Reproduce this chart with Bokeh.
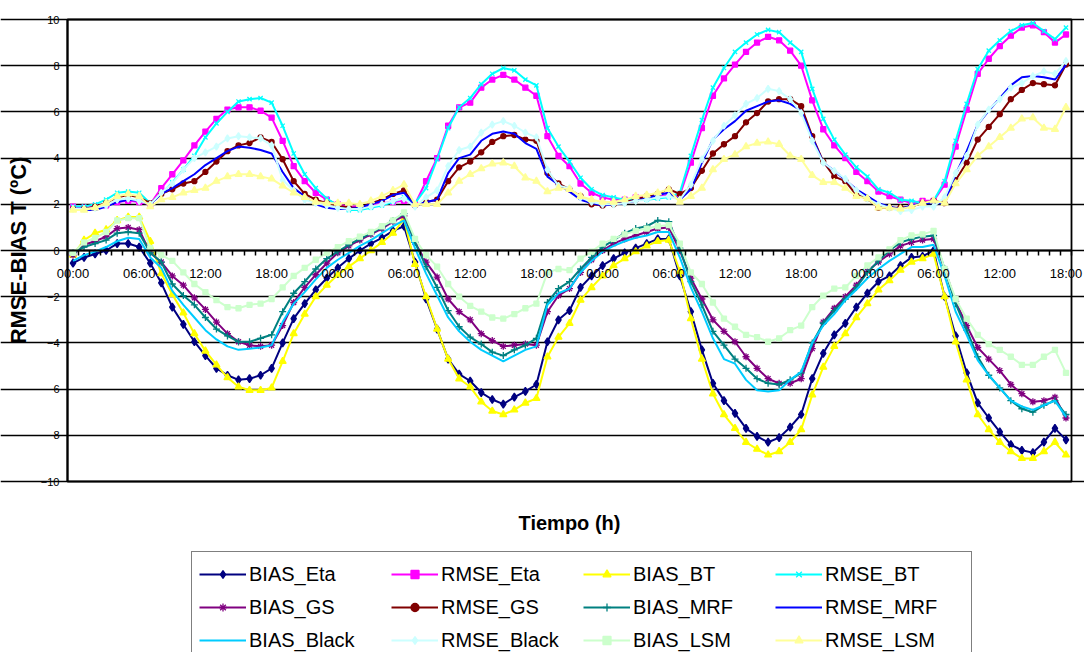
from bokeh.plotting import figure
from bokeh.models import (Range1d, FixedTicker, LinearAxis, Grid, Legend,
                          LegendItem, Label)
from bokeh.embed import file_html
from bokeh.resources import INLINE

# Hourly forecast verification, 91 hourly steps
hours = list(range(91))
tick_hours = list(range(0, 91, 6))
tick_labels = ["00:00", "06:00", "12:00", "18:00"] * 4
y_ticks = list(range(-10, 11, 2))

bias_eta = [-0.55, -0.3, -0.15, 0.0, 0.3, 0.3,
            0.15, -0.55, -1.4, -2.45, -3.2, -3.95,
            -4.55, -5.1, -5.4, -5.6, -5.55, -5.4,
            -5.1, -4.0, -2.95, -2.3, -1.7, -1.2,
            -0.75, -0.35, 0.0, 0.3, 0.55, 0.85,
            1.05, -0.5, -2.1, -3.4, -4.7, -5.35,
            -5.65, -6.15, -6.45, -6.65, -6.35, -6.1,
            -5.8, -3.95, -3.0, -2.6, -1.6, -1.1,
            -0.65, -0.35, -0.1, 0.1, 0.3, 0.5,
            0.5, -1.1, -2.65, -4.3, -5.75, -6.5,
            -7.05, -7.7, -8.05, -8.3, -8.1, -7.65,
            -7.1, -5.55, -4.45, -3.65, -3.15, -2.45,
            -1.85, -1.35, -1.1, -0.65, -0.3, -0.25,
            0.0, -2.0, -3.7, -5.3, -6.6, -7.25,
            -7.85, -8.4, -8.65, -8.75, -8.3, -7.7,
            -8.2]

rmse_eta = [1.9, 1.85, 1.9, 1.95, 2.1, 2.15,
            2.1, 2.0, 2.7, 3.3, 3.9, 4.55,
            5.15, 5.7, 6.1, 6.2, 6.2, 6.05,
            5.75, 4.75, 3.65, 3.0, 2.5, 2.2,
            2.0, 1.9, 1.9, 1.95, 2.05, 2.1,
            2.15, 2.0, 3.0, 4.0, 5.4, 6.2,
            6.4, 7.05, 7.4, 7.6, 7.4, 7.05,
            6.7, 4.95, 4.1, 3.65, 2.9, 2.5,
            2.3, 2.2, 2.2, 2.3, 2.3, 2.35,
            2.4, 2.4, 3.8, 5.3, 6.7, 7.45,
            8.05, 8.6, 9.0, 9.25, 9.1, 8.65,
            8.0, 6.5, 5.25, 4.55, 4.0, 3.4,
            3.0, 2.55, 2.35, 2.2, 2.05, 2.15,
            2.15, 2.85, 4.5, 6.1, 7.65, 8.3,
            8.85, 9.3, 9.65, 9.75, 9.45, 9.0,
            9.35]

bias_bt = [-0.2, 0.45, 0.75, 0.9, 1.3, 1.45,
           1.45, 0.4, -1.0, -1.9, -2.7, -3.6,
           -4.35, -4.95, -5.5, -5.9, -6.05, -6.05,
           -5.95, -4.8, -3.6, -2.75, -2.0, -1.5,
           -1.05, -0.7, -0.35, 0.0, 0.35, 0.75,
           1.35, -0.6, -2.0, -3.4, -4.7, -5.55,
           -5.9, -6.55, -6.95, -7.1, -6.9, -6.6,
           -6.4, -4.6, -3.75, -3.15, -2.15, -1.6,
           -1.1, -0.65, -0.35, -0.05, 0.2, 0.4,
           0.45, -0.9, -2.95, -4.7, -6.2, -7.1,
           -7.7, -8.3, -8.6, -8.85, -8.7, -8.3,
           -7.75, -6.25, -5.05, -4.15, -3.6, -2.9,
           -2.3, -1.7, -1.3, -0.85, -0.5, -0.35,
           -0.15, -2.0, -3.95, -5.6, -7.1, -7.75,
           -8.3, -8.7, -9.0, -9.0, -8.7, -8.3,
           -8.85]

rmse_bt = [1.9, 1.9, 2.0, 2.2, 2.5, 2.55,
           2.5, 2.05, 2.45, 2.95, 3.5, 4.1,
           4.9, 5.5, 6.0, 6.45, 6.55, 6.6,
           6.4, 5.4, 4.2, 3.3, 2.7, 2.25,
           1.95, 1.75, 1.75, 1.85, 1.95, 2.1,
           2.3, 2.05, 2.7, 3.95, 5.3, 6.2,
           6.6, 7.2, 7.65, 7.9, 7.8, 7.4,
           7.15, 5.3, 4.5, 3.85, 3.15, 2.65,
           2.4, 2.3, 2.2, 2.25, 2.2, 2.25,
           2.3, 2.5, 4.1, 5.65, 7.05, 7.9,
           8.6, 9.0, 9.35, 9.55, 9.45, 9.0,
           8.6, 7.0, 5.7, 4.8, 4.15, 3.6,
           3.2, 2.65, 2.5, 2.2, 2.15, 2.05,
           2.15, 3.0, 4.75, 6.35, 7.85, 8.65,
           9.1, 9.5, 9.75, 9.85, 9.5, 9.15,
           9.65]

bias_gs = [-0.2, 0.25, 0.4, 0.6, 0.95, 1.0,
           0.9, -0.1, -0.5, -1.1, -1.5, -2.05,
           -2.55, -3.1, -3.6, -3.95, -4.1, -4.15,
           -4.1, -3.25, -2.25, -1.6, -1.05, -0.55,
           -0.1, 0.2, 0.45, 0.7, 0.95, 1.25,
           1.5, 0.35, -0.5, -1.15, -2.1, -2.65,
           -3.0, -3.6, -3.9, -4.15, -4.1, -4.05,
           -4.1, -2.65, -1.95, -1.65, -0.95, -0.4,
           0.0, 0.3, 0.5, 0.65, 0.8, 0.95,
           1.0, 0.0, -1.2, -2.1, -3.0, -3.5,
           -3.95, -4.6, -5.1, -5.55, -5.75, -5.75,
           -5.55, -4.25, -3.1, -2.5, -2.0, -1.5,
           -0.9, -0.5, -0.15, 0.2, 0.35, 0.45,
           0.5, -0.8, -2.2, -3.25, -4.2, -4.7,
           -5.2, -5.8, -6.2, -6.55, -6.5, -6.35,
           -7.25]

rmse_gs = [1.8, 1.8, 1.9, 2.05, 2.3, 2.4,
           2.3, 2.05, 2.45, 2.65, 2.9, 3.0,
           3.4, 3.85, 4.3, 4.55, 4.65, 4.9,
           4.7, 3.95, 3.0, 2.45, 2.2, 2.05,
           1.95, 1.85, 1.85, 2.05, 2.2, 2.45,
           2.6, 1.95, 2.1, 2.2, 3.0, 3.6,
           3.85, 4.25, 4.7, 4.95, 5.0, 4.8,
           4.75, 3.35, 2.9, 2.65, 2.35, 2.0,
           1.95, 2.0, 2.1, 2.2, 2.35, 2.45,
           2.65, 2.45, 2.7, 3.45, 4.2, 4.6,
           4.95, 5.55, 5.95, 6.45, 6.55, 6.55,
           6.25, 4.95, 3.85, 3.2, 3.0, 2.4,
           2.25, 1.85, 1.85, 1.85, 1.9, 2.05,
           2.15, 2.05, 3.05, 3.8, 4.8, 5.35,
           5.9, 6.55, 6.95, 7.25, 7.2, 7.15,
           8.05]

bias_mrf = [-0.1, 0.15, 0.3, 0.45, 0.75, 0.8,
            0.75, -0.1, -0.5, -1.45, -1.95, -2.35,
            -2.9, -3.4, -3.7, -3.95, -3.95, -3.8,
            -3.65, -2.65, -1.85, -1.35, -0.8, -0.35,
            -0.05, 0.25, 0.5, 0.75, 1.0, 1.3,
            1.6, 0.35, -0.7, -1.6, -2.6, -3.3,
            -3.75, -4.05, -4.4, -4.55, -4.3, -4.1,
            -3.8, -2.25, -1.65, -1.35, -0.8, -0.3,
            0.15, 0.45, 0.75, 0.95, 1.05, 1.3,
            1.25, 0.1, -1.35, -2.35, -3.5, -4.1,
            -4.7, -5.1, -5.55, -5.75, -5.8, -5.6,
            -5.3, -4.0, -3.15, -2.6, -2.1, -1.6,
            -0.95, -0.45, 0.0, 0.35, 0.5, 0.6,
            0.65, -0.8, -2.3, -3.45, -4.6, -5.4,
            -5.95, -6.5, -6.85, -7.0, -6.7, -6.5,
            -7.1]

rmse_mrf = [1.75, 1.75, 1.75, 1.9, 2.1, 2.2,
            2.15, 2.0, 2.45, 2.7, 3.0, 3.3,
            3.7, 4.0, 4.3, 4.5, 4.45, 4.35,
            4.2, 3.4, 2.7, 2.35, 2.0, 1.85,
            1.8, 1.8, 1.85, 2.0, 2.15, 2.4,
            2.5, 1.95, 2.1, 2.2, 3.35, 4.0,
            4.15, 4.75, 5.05, 5.15, 5.05, 4.65,
            4.4, 3.2, 2.85, 2.55, 2.2, 2.05,
            1.95, 2.0, 2.05, 2.15, 2.25, 2.4,
            2.5, 2.2, 2.65, 3.8, 4.8, 5.25,
            5.6, 6.05, 6.25, 6.45, 6.5, 6.35,
            6.05, 4.9, 3.8, 3.45, 3.05, 2.65,
            2.35, 2.05, 1.9, 1.8, 1.95, 2.05,
            2.05, 2.05, 3.3, 4.3, 5.45, 6.05,
            6.6, 7.15, 7.5, 7.55, 7.5, 7.4,
            8.05]

bias_black = [-0.45, -0.2, -0.05, 0.15, 0.4, 0.55,
              0.5, -0.3, -0.75, -1.75, -2.35, -2.9,
              -3.45, -3.85, -4.15, -4.3, -4.25, -4.2,
              -4.1, -3.1, -2.3, -1.8, -1.25, -0.75,
              -0.4, -0.1, 0.2, 0.45, 0.75, 1.05,
              1.3, 0.1, -1.0, -1.95, -2.9, -3.5,
              -3.95, -4.3, -4.55, -4.8, -4.55, -4.3,
              -4.15, -2.35, -1.85, -1.65, -0.95, -0.45,
              -0.05, 0.2, 0.4, 0.55, 0.65, 0.8,
              0.8, -0.3, -1.6, -2.65, -3.8, -4.7,
              -4.9, -5.6, -6.05, -6.1, -6.05, -5.6,
              -5.25, -4.0, -3.25, -2.75, -2.15, -1.7,
              -1.2, -0.8, -0.45, -0.15, 0.15, 0.15,
              0.25, -1.1, -2.65, -3.65, -4.75, -5.4,
              -5.95, -6.5, -6.75, -6.9, -6.7, -6.5,
              -7.2]

rmse_black = [1.8, 1.8, 1.85, 1.95, 2.2, 2.25,
              2.15, 2.0, 2.5, 2.9, 3.5, 4.0,
              4.25, 4.5, 4.85, 4.95, 4.9, 4.85,
              4.55, 3.05, 2.6, 2.2, 2.05, 1.95,
              1.85, 1.8, 1.8, 1.9, 2.0, 2.15,
              2.25, 1.9, 2.3, 2.6, 3.65, 4.35,
              4.5, 5.1, 5.45, 5.6, 5.4, 5.1,
              4.9, 3.5, 2.8, 2.7, 2.3, 2.1,
              2.0, 2.0, 2.05, 2.15, 2.2, 2.3,
              2.35, 2.2, 2.85, 3.95, 4.75, 5.4,
              5.85, 6.35, 6.6, 7.0, 6.9, 6.55,
              5.95, 4.75, 3.8, 3.45, 3.1, 2.6,
              2.25, 2.0, 1.85, 1.7, 1.75, 1.9,
              1.9, 2.3, 3.35, 4.1, 5.45, 6.1,
              6.55, 7.05, 7.25, 7.55, 7.75, 7.65,
              8.2]

bias_lsm = [-0.1, 0.35, 0.55, 0.8, 1.3, 1.4,
            1.4, 0.1, -0.2, -0.45, -0.95, -1.45,
            -1.8, -2.15, -2.45, -2.5, -2.35, -2.3,
            -2.1, -1.6, -1.1, -0.75, -0.4, -0.1,
            0.15, 0.4, 0.6, 0.8, 1.05, 1.3,
            1.65, 0.5, -0.2, -0.7, -1.45, -2.0,
            -2.4, -2.65, -2.9, -2.95, -2.75, -2.5,
            -2.3, -0.95, -0.8, -0.85, -0.35, -0.05,
            0.3, 0.5, 0.7, 0.85, 0.95, 1.05,
            1.1, 0.3, -0.95, -1.45, -2.25, -2.95,
            -3.3, -3.65, -3.75, -3.95, -3.8, -3.45,
            -3.25, -2.45, -1.95, -1.65, -1.6, -1.1,
            -0.65, -0.3, 0.05, 0.45, 0.65, 0.7,
            0.85, -0.8, -2.1, -2.95, -3.65, -4.05,
            -4.3, -4.6, -4.95, -4.95, -4.6, -4.3,
            -5.3]

rmse_lsm = [1.75, 1.75, 1.85, 2.05, 2.35, 2.45,
            2.35, 1.9, 2.2, 2.3, 2.5, 2.6,
            2.7, 3.0, 3.2, 3.3, 3.3, 3.2,
            3.1, 2.8, 2.5, 2.3, 2.1, 2.05,
            2.05, 2.05, 2.0, 2.15, 2.35, 2.6,
            2.85, 2.0, 2.0, 2.0, 2.5, 3.0,
            3.3, 3.55, 3.75, 3.8, 3.65, 3.15,
            3.0, 2.55, 2.7, 2.65, 2.35, 2.2,
            2.1, 2.1, 2.2, 2.35, 2.4, 2.5,
            2.65, 2.1, 2.35, 2.7, 3.5, 3.95,
            4.15, 4.5, 4.65, 4.7, 4.6, 4.1,
            3.95, 3.25, 2.95, 2.95, 2.7, 2.35,
            2.25, 1.85, 1.85, 1.8, 1.9, 2.05,
            2.15, 2.05, 2.9, 3.5, 4.1, 4.5,
            4.9, 5.3, 5.7, 5.75, 5.3, 5.25,
            6.2]

# name, values, colour, marker, marker size
series = [
    ("BIAS_Eta", bias_eta, "#000080", "diamond", 8),
    ("RMSE_Eta", rmse_eta, "#FF00FF", "square", 5),
    ("BIAS_BT", bias_bt, "#FFFF00", "triangle", 7),
    ("RMSE_BT", rmse_bt, "#00FFFF", "x", 6),
    ("BIAS_GS", bias_gs, "#800080", "asterisk", 7),
    ("RMSE_GS", rmse_gs, "#800000", "circle", 5),
    ("BIAS_MRF", bias_mrf, "#008080", "cross", 7),
    ("RMSE_MRF", rmse_mrf, "#0000FF", None, 0),
    ("BIAS_Black", bias_black, "#00CCFF", None, 0),
    ("RMSE_Black", rmse_black, "#CCFFFF", "diamond", 7),
    ("BIAS_LSM", bias_lsm, "#CCFFCC", "square", 5),
    ("RMSE_LSM", rmse_lsm, "#FFFF99", "triangle", 7),
]

FONT = "Liberation Sans"
W, H = 1084, 652
# plot area in page pixels
LEFT, RIGHT, TOP, BOTTOM = 67, 1071, 19, 481
X_LO, X_HI = -0.5, 90.5          # category edges
Y_LO, Y_HI = -10, 10
px_x = (RIGHT - LEFT) / (X_HI - X_LO)
px_y = (BOTTOM - TOP) / (Y_HI - Y_LO)
TICK_LEN = 5                     # px

# The frame spans the whole page so that the legend and titles beneath the
# plot area are drawn in the same coordinate space.
p = figure(width=W, height=H, output_backend="svg", toolbar_location=None,
           x_range=Range1d(X_LO - LEFT / px_x, X_HI + (W - RIGHT) / px_x),
           y_range=Range1d(Y_LO - (H - BOTTOM) / px_y, Y_HI + TOP / px_y),
           x_axis_type=None, y_axis_type=None,
           min_border_left=0, min_border_right=0,
           min_border_top=0, min_border_bottom=0)
p.outline_line_color = None
p.background_fill_color = "white"
p.border_fill_color = "white"

# horizontal gridlines; they run a few pixels past the value axis as its ticks
yticker = FixedTicker(ticks=y_ticks)
p.add_layout(Grid(dimension=1, ticker=yticker,
                  bounds=(X_LO - TICK_LEN / px_x, X_HI),
                  grid_line_color="black", grid_line_width=1.4))

# border of the plot area (value axis line on the left, edge on the right)
p.quad(left=[X_LO], right=[X_HI], bottom=[Y_LO], top=[Y_HI],
       fill_color=None, line_color="black", line_width=1.8, level="underlay")

yaxis = LinearAxis(ticker=yticker, fixed_location=X_LO, bounds=(Y_LO, Y_HI),
                   axis_label="RMSE-BIAS T (ºC)",
                   axis_line_color="black", axis_line_width=2,
                   major_tick_out=TICK_LEN, major_tick_in=0, minor_tick_out=0,
                   major_tick_line_color="black", major_label_standoff=3,
                   major_label_text_font=FONT, major_label_text_font_size="11px",
                   major_label_text_color="black",
                   axis_label_text_font=FONT, axis_label_text_font_size="22px",
                   axis_label_text_font_style="bold", axis_label_standoff=7,
                   axis_label_text_color="black")
p.add_layout(yaxis, "left")

# time axis crossing at zero; tick marks at hour boundaries
xticker = FixedTicker(ticks=tick_hours,
                      minor_ticks=[h - 0.5 for h in range(92)])
xaxis = LinearAxis(ticker=xticker, fixed_location=0, bounds=(X_LO, X_HI),
                   axis_line_color="black", axis_line_width=2,
                   major_tick_out=0, major_tick_in=0,
                   minor_tick_out=TICK_LEN, minor_tick_in=0,
                   minor_tick_line_color="black", minor_tick_line_width=1.5,
                   major_label_standoff=10,
                   major_label_overrides={h: lab for h, lab in zip(tick_hours, tick_labels)},
                   major_label_text_font=FONT, major_label_text_font_size="13px",
                   major_label_text_color="black")
p.add_layout(xaxis, "below")

items = []
for name, vals, color, marker, size in series:
    rs = [p.line(hours, vals, line_color=color, line_width=2)]
    if marker:
        fill = color if marker in ("diamond", "square", "triangle", "circle") else None
        rs.append(p.scatter(hours, vals, marker=marker, size=size,
                            line_color=color, fill_color=fill, line_width=1.3))
    items.append(LegendItem(label=name, renderers=rs))

# legend box: left edge and bottom edge in page pixels
LEG_LEFT, LEG_BOTTOM = 191, 663
legend = Legend(items=items, location=(LEG_LEFT, H - LEG_BOTTOM),
                orientation="horizontal", ncols=4,
                glyph_width=47, glyph_height=20, label_height=30,
                label_width=139, label_standoff=3, spacing=3, padding=7,
                margin=0,
                border_line_color="black", border_line_width=1.5,
                background_fill_color="white", background_fill_alpha=1.0,
                label_text_font=FONT, label_text_font_size="20px",
                label_text_color="black")
p.add_layout(legend, "center")

TITLE_Y = 522
p.add_layout(Label(x=(X_LO + X_HI) / 2, y=Y_HI - (TITLE_Y - TOP) / px_y,
                   text="Tiempo (h)", text_align="center", text_baseline="middle",
                   text_font=FONT, text_font_size="20px", text_font_style="bold",
                   text_color="black"))

open("out.html", "w").write(file_html(p, INLINE))
